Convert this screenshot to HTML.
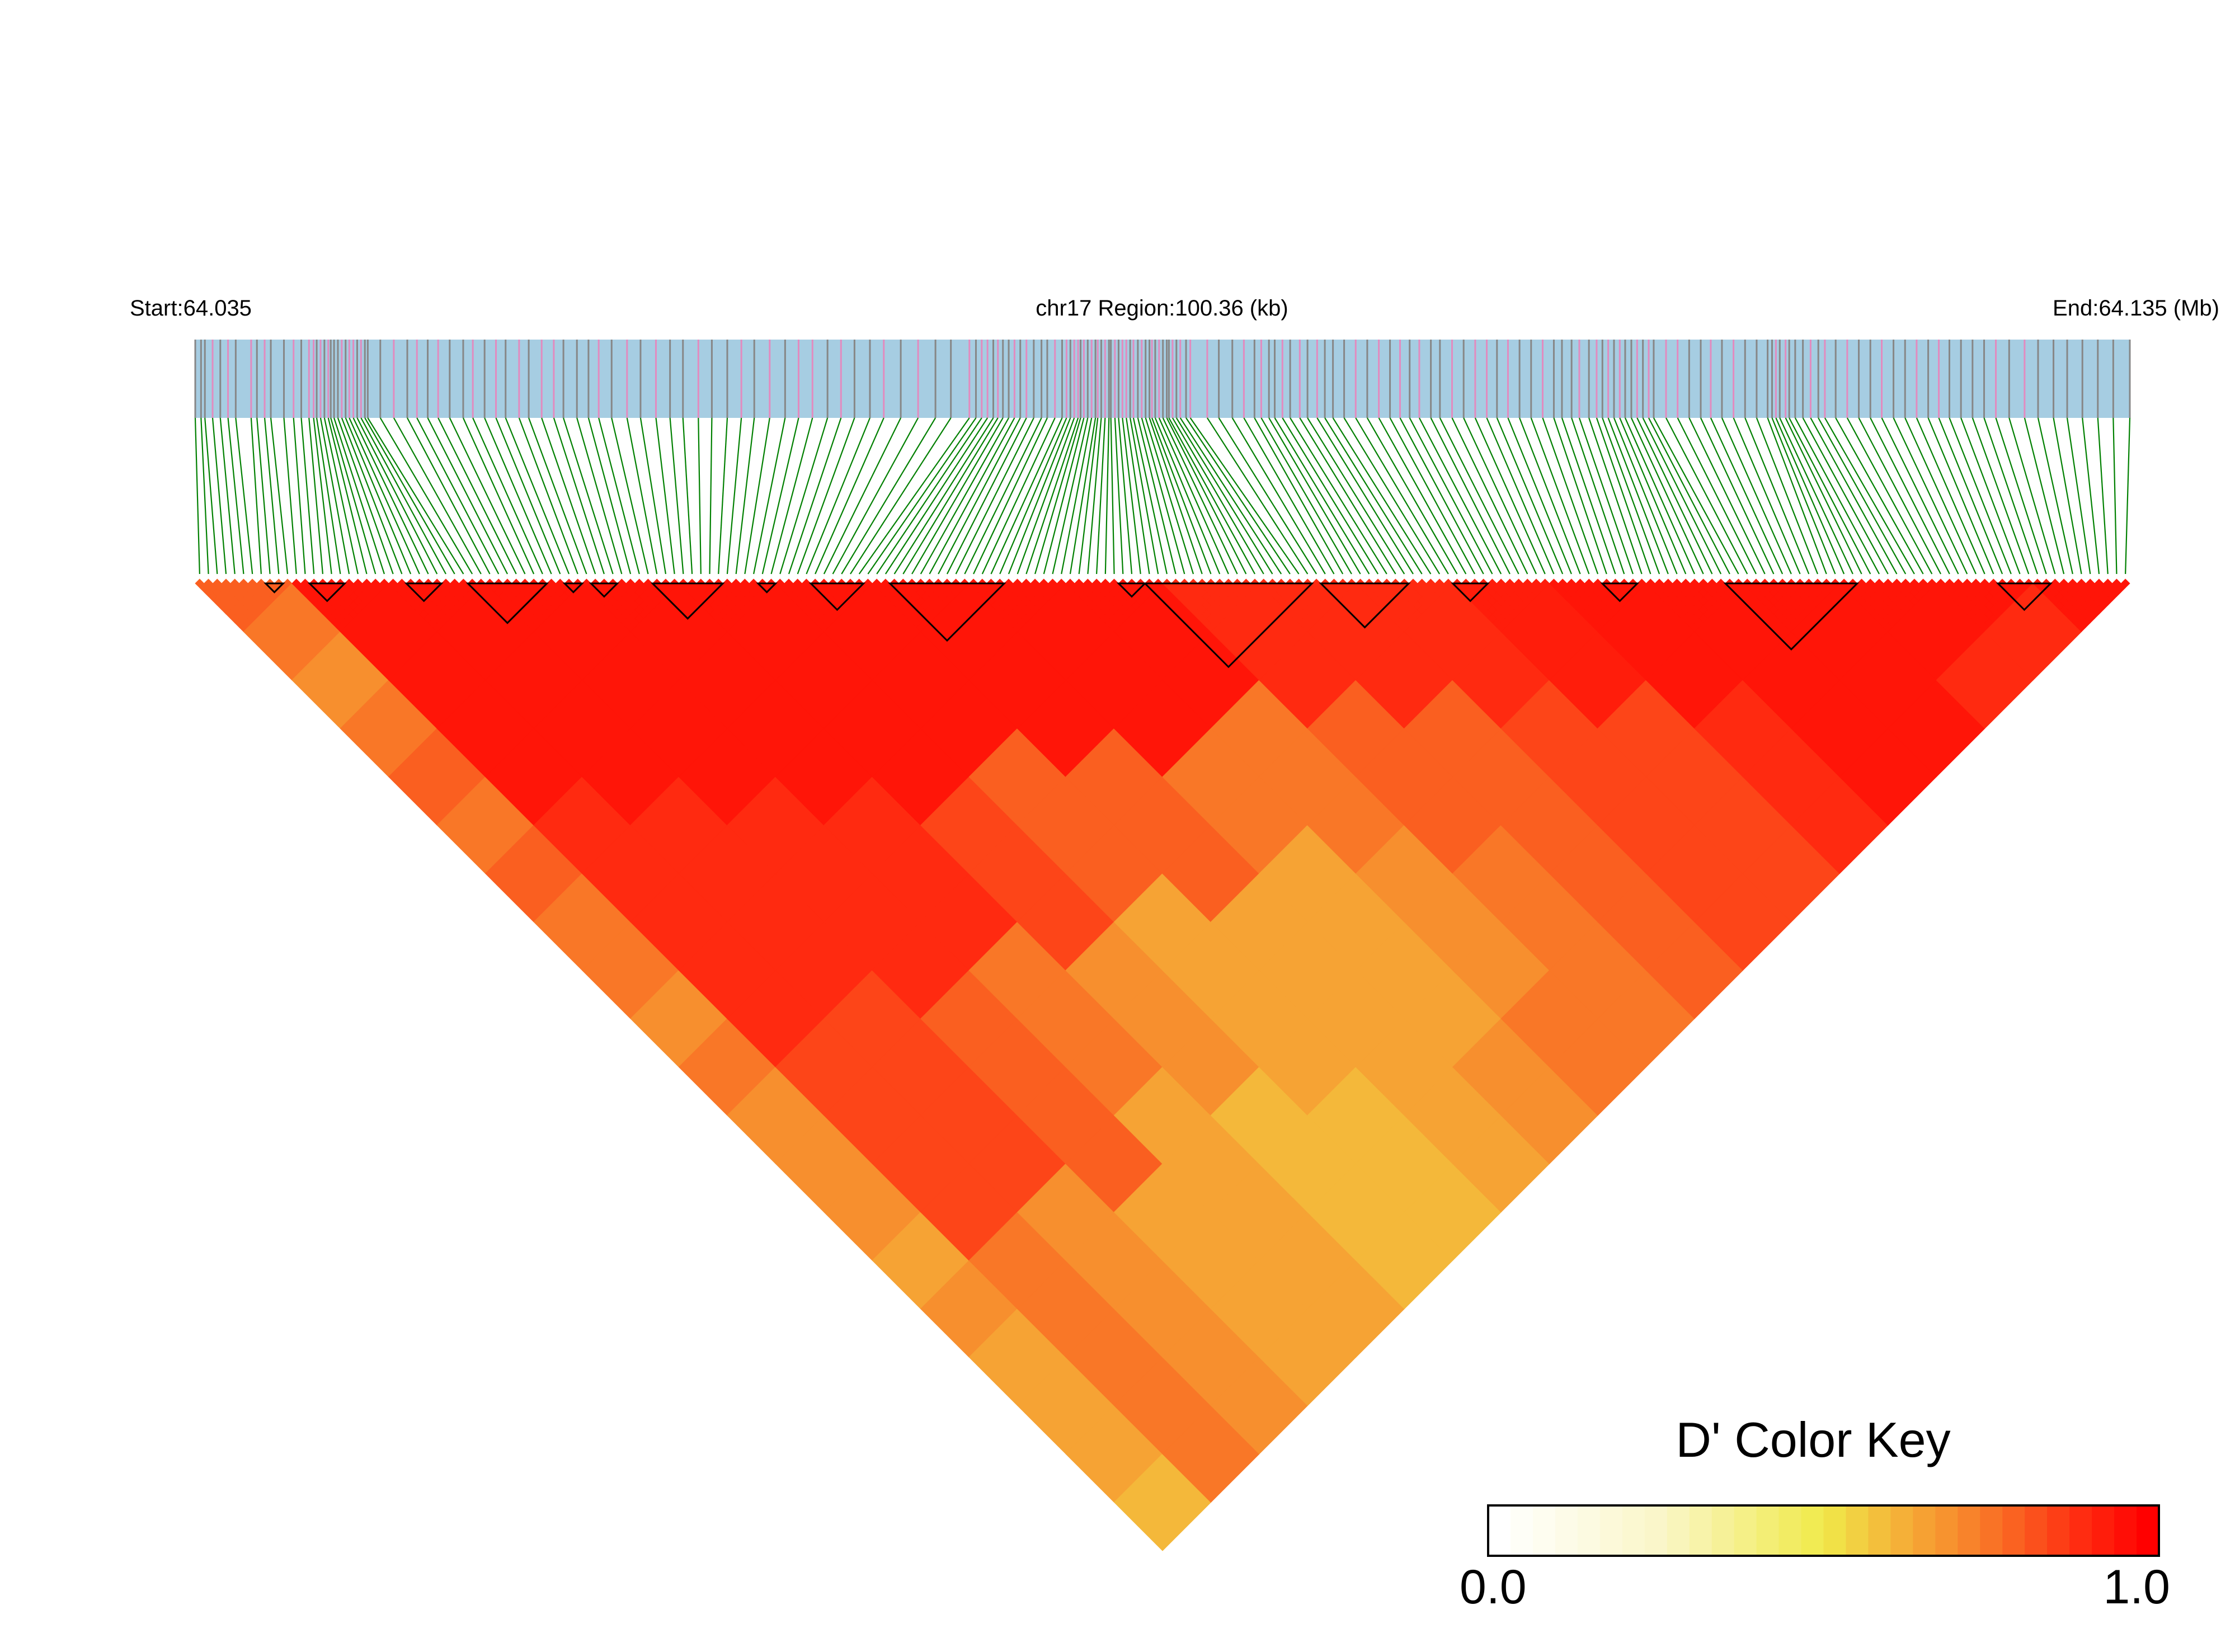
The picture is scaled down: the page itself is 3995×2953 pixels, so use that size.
<!DOCTYPE html>
<html><head><meta charset="utf-8"><title>LD heatmap chr17</title>
<style>
html,body{margin:0;padding:0;background:#fff;}
svg{display:block;}
text{font-family:"Liberation Sans",Arial,sans-serif;fill:#000;}
</style></head>
<body>
<svg id="chart" width="3995" height="2953" viewBox="0 0 3995 2953" xmlns="http://www.w3.org/2000/svg">
<rect x="0" y="0" width="3995" height="2953" fill="#fff"/>
<text x="232" y="564" font-size="40">Start:64.035</text>
<text x="2077" y="564" font-size="40" text-anchor="middle">chr17 Region:100.36 (kb)</text>
<text x="3967" y="564" font-size="40" text-anchor="end">End:64.135 (Mb)</text>
<rect x="349" y="607" width="3458" height="140" fill="#a6cde2"/>
<g id="barLines"></g>
<g id="greenLines"></g>
<g id="cells"></g>
<g id="blocks"></g>
<text x="3241" y="2604" font-size="88" text-anchor="middle">D' Color Key</text>
<g id="legend"></g>
<text x="2609" y="2866" font-size="86">0.0</text>
<text x="3879" y="2866" font-size="86" text-anchor="end">1.0</text>
</svg>
<script>
// SNP physical positions (kb from region start)
const snpPositions = [0,0.3,0.5,0.9,1.3,1.70,
2.1,2.9,3.2,3.6,3.92, 4.6,5.1,5.5,5.9,6.14, 6.3,6.5,6.7,6.9,7.03, 7.2,7.4,7.6,7.8,7.99,
8.2,8.4,8.6,8.8,8.95, 9.6,10.3,11.0,11.5,12.06, 12.6,13.2,13.9,14.4,15.01, 15.6,16.1,16.8,17.3,17.97,
18.6,19.1,19.8,20.4,20.93, 21.6,22.4,23.1,23.9,24.63, 25.3,26.1,26.8,27.6,28.33, 29.0,29.8,30.6,31.3,32.02,
32.8,33.5,34.2,35.0,35.72, 36.6,37.5,38.4,39.2,40.16, 40.5,40.8,41.1,41.4,41.64, 41.9,42.2,42.5,42.8,43.12,
43.5,43.9,44.2,44.6,44.97, 45.2,45.4,45.6,45.8,45.93, 46.1,46.3,46.5,46.7,46.82, 47.0,47.2,47.4,47.5,47.71,
47.9,48.1,48.3,48.5,48.67, 48.9,49.1,49.3,49.5,49.63, 49.8,50.0,50.2,50.4,50.51, 50.7,50.9,51.1,51.4,51.62,
52.5,53.1,53.8,54.4,54.95, 55.3,55.7,56.0,56.4,56.80, 57.3,57.7,58.2,58.6,59.02, 59.6,60.2,60.8,61.4,61.98,
62.5,63.0,63.5,64.1,64.57, 65.2,65.8,66.4,67.0,67.53, 68.1,68.7,69.3,69.9,70.48, 70.9,71.4,71.8,72.3,72.70,
73.0,73.3,73.6,73.9,74.18, 74.5,74.8,75.1,75.4,75.66, 76.3,76.9,77.5,78.1,78.62, 79.2,79.8,80.4,81.0,81.57,
81.8,82.0,82.2,82.5,82.69, 83.0,83.4,83.8,84.2,84.54, 85.1,85.7,86.3,86.9,87.49, 88.1,88.7,89.3,89.9,90.45,
91.0,91.6,92.2,92.8,93.41, 94.1,94.9,95.6,96.4,97.11, 97.9,98.7,99.5,100.36];
// SNP marker type on the region bar: g = gray, p = pink
const snpTypes = "gggpgpgpgpggpgppgpgpgggpgppgpgggpgpgpggpgpgpgppgggpgpgpggpggpgpgppgpggpgpggpgppgpggpgpgggpgpgppgpgpgpgpggpgppgpgpggpgpgggpgpgppggpgpggpgpgpgggpgpgpgpggpgppgpggpgggpgpgpgpggpgpgppggpgpggggpgpgggpgpgpggpggpgpggggpgpggg";
// coarse D' values, group rows a (11 SNPs each), entries for groups b = a..19
const dprimeRow0  = [0.8,0.75,0.7,0.75,0.8,0.75,0.8,0.75,0.75,0.7,0.75,0.7,0.7,0.7,0.65,0.7,0.65,0.65,0.65,0.6];
const dprimeRow1  = [0.95,0.95,0.95,0.95,0.95,0.9,0.9,0.9,0.9,0.9,0.85,0.85,0.85,0.85,0.75,0.75,0.75,0.75,0.75];
const dprimeRow2  = [0.95,0.95,0.95,0.95,0.95,0.9,0.9,0.9,0.9,0.85,0.85,0.85,0.85,0.7,0.7,0.7,0.7,0.7];
const dprimeRow3  = [0.95,0.95,0.95,0.95,0.95,0.9,0.9,0.9,0.9,0.8,0.8,0.8,0.8,0.65,0.65,0.65,0.65];
const dprimeRow4  = [0.95,0.95,0.95,0.95,0.95,0.9,0.9,0.9,0.75,0.75,0.75,0.65,0.65,0.65,0.65,0.65];
const dprimeRow5  = [0.95,0.95,0.95,0.95,0.95,0.85,0.85,0.85,0.7,0.7,0.7,0.6,0.6,0.6,0.6];
const dprimeRow6  = [0.95,0.95,0.95,0.95,0.8,0.8,0.8,0.65,0.65,0.65,0.65,0.6,0.6,0.6];
const dprimeRow7  = [0.95,0.95,0.95,0.95,0.8,0.8,0.8,0.65,0.65,0.65,0.65,0.65,0.65];
const dprimeRow8  = [0.95,0.95,0.95,0.95,0.75,0.75,0.65,0.65,0.65,0.65,0.7,0.7];
const dprimeRow9  = [0.95,0.95,0.95,0.75,0.75,0.75,0.7,0.7,0.7,0.75,0.75];
const dprimeRow10 = [0.9,0.9,0.9,0.8,0.8,0.8,0.75,0.75,0.75,0.75];
const dprimeRow11 = [0.9,0.9,0.9,0.8,0.8,0.8,0.8,0.8,0.8];
const dprimeRow12 = [0.9,0.9,0.9,0.85,0.85,0.85,0.85,0.85];
const dprimeRow13 = [0.93,0.93,0.93,0.85,0.85,0.85,0.85];
const dprimeRow14 = [0.95,0.95,0.95,0.9,0.9,0.9];
const dprimeRow15 = [0.95,0.95,0.95,0.95,0.95];
const dprimeRow16 = [0.95,0.95,0.95,0.95];
const dprimeRow17 = [0.95,0.95,0.9];
const dprimeRow18 = [0.95,0.9];
const dprimeRow19 = [0.95];
// haplotype blocks [start SNP, end SNP]
const blockStarts = [8,13,24,31,42,45,52,64,70,79,105,108,128,143,160,174,205];
const blockEnds   = [9,16,27,39,43,47,59,65,75,91,107,126,137,146,163,188,210];
// color key ticks
const keyTickLabels = ["0.0","1.0"];

const dRows=[dprimeRow0,dprimeRow1,dprimeRow2,dprimeRow3,dprimeRow4,dprimeRow5,dprimeRow6,dprimeRow7,dprimeRow8,dprimeRow9,dprimeRow10,dprimeRow11,dprimeRow12,dprimeRow13,dprimeRow14,dprimeRow15,dprimeRow16,dprimeRow17,dprimeRow18,dprimeRow19];
const NS='http://www.w3.org/2000/svg';
const N=snpPositions.length, GS=11, G=dRows.length;
const L=349,R=3807,T=1035,BT=607,BB=747,GL=1026;
const d=(R-L)/N;
const regionKb=100.36;
function xPos(kb){return L+kb/regionKb*(R-L);}
function xIdx(i){return L+(i+0.5)*d;}
const stops=[[0,255,255,255],[0.25,250,246,200],[0.5,240,234,74],[0.6,244,184,58],[0.7,247,143,46],[0.8,250,95,32],[0.9,255,42,16],[1,255,0,0]];
function color(v){v=Math.max(0,Math.min(1,v));for(let k=1;k<stops.length;k++){if(v<=stops[k][0]){const a=stops[k-1],b=stops[k],t=(v-a[0])/(b[0]-a[0]);return 'rgb('+[1,2,3].map(c=>Math.round(a[c]+(b[c]-a[c])*t)).join(',')+')';}}return 'rgb(255,0,0)';}
function mk(tag,attrs,parent){const e=document.createElementNS(NS,tag);for(const k in attrs)e.setAttribute(k,attrs[k]);parent.appendChild(e);return e;}
function val(a,b){return dRows[a][b-a];}

const bl=document.getElementById('barLines'), gl=document.getElementById('greenLines');
for(let i=0;i<N;i++){
  const x=xPos(snpPositions[i]);
  const e=mk('line',{x1:x,y1:BT,x2:x,y2:BB,stroke:snpTypes[i]==='p'?'#e28bbf':'#878787','stroke-width':3},bl);
  
  
  const g=mk('line',{x1:x,y1:BB,x2:xIdx(i),y2:GL,stroke:'#008000','stroke-width':2.2},gl);
  
  
}
function cellCenter(i,j){return [L+(i+j+1)/2*d, T+(j-i)*d/2+d/2];}
const cg=document.getElementById('cells');
for(let a=0;a<G;a++){for(let b=a;b<G;b++){
  const v=val(a,b), col=color(v);
  if(a===b){
    for(let i=a*GS;i<(a+1)*GS;i++)for(let j=i;j<(a+1)*GS;j++){
      const [cx,cy]=cellCenter(i,j),h=d/2;
      const p=mk('polygon',{points:[cx,cy-h,cx+h,cy,cx,cy+h,cx-h,cy].join(' '),fill:col,stroke:col,'stroke-width':0.8},cg);
      
      
    }
  } else {
    const i0=a*GS,i1=(a+1)*GS-1,j0=b*GS,j1=(b+1)*GS-1,h=d/2;
    const top=cellCenter(i1,j0),left=cellCenter(i0,j0),right=cellCenter(i1,j1),bot=cellCenter(i0,j1);
    const p=mk('polygon',{points:[top[0],top[1]-h,right[0]+h,right[1],bot[0],bot[1]+h,left[0]-h,left[1]].join(' '),fill:col,stroke:col,'stroke-width':1},cg);
    
    
  }
}}
const bg=document.getElementById('blocks');
for(let k=0;k<blockStarts.length;k++){
  const s=blockStarts[k],e=blockEnds[k];
  const x0=L+s*d,x1=L+(e+1)*d,yt=T+d/2;
  const ax=L+(s+e+1)/2*d, ay=yt+(e-s+1)*d/2;
  const p=mk('polygon',{points:[x0,yt,x1,yt,ax,ay].join(' '),fill:'none',stroke:'#000','stroke-width':3},bg);
  
  
}
const lg=document.getElementById('legend');
const KX0=2660,KX1=3859,KY0=2691,KY1=2781,NSEG=30;
for(let s=0;s<NSEG;s++){
  const w=(KX1-KX0)/NSEG;
  const r=mk('rect',{x:KX0+s*w,y:KY0,width:w+0.6,height:KY1-KY0,fill:color(s/(NSEG-1))},lg);
  
  
}
const br=mk('rect',{x:KX0,y:KY0,width:KX1-KX0,height:KY1-KY0,fill:'none',stroke:'#000','stroke-width':4},lg);


</script>
</body></html>
